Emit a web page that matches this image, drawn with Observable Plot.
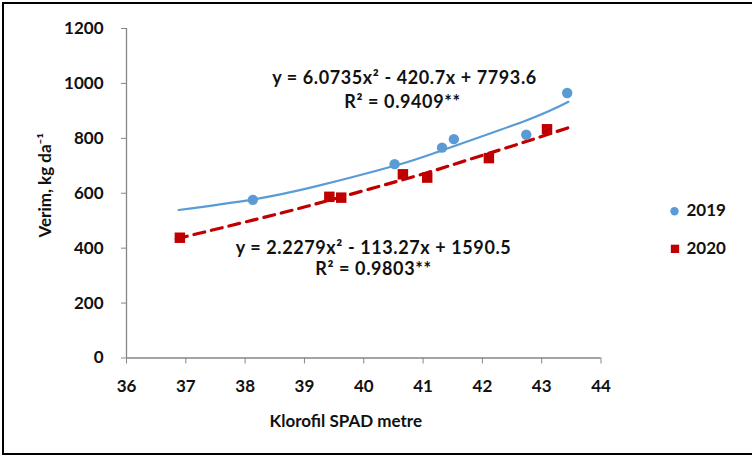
<!DOCTYPE html>
<html>
<head>
<meta charset="utf-8">
<script src="https://cdn.jsdelivr.net/npm/d3@7"></script>
<script src="https://cdn.jsdelivr.net/npm/@observablehq/plot@0.6"></script>
<style>
  body { margin: 0; background: #fff; }
  #wrap { position: relative; width: 752px; height: 457px; overflow: hidden; background: #fff; }
  #frame { position: absolute; left: 2px; top: 2px; width: 800px; height: 453px; border: 2.5px solid #000; box-sizing: border-box; pointer-events: none; }
  #wrap svg { position: absolute; left: 0; top: 0; }
</style>
</head>
<body>
<div id="wrap"><div id="frame"></div></div>
<script>
// ---- data ----
const series = ["2019", "2020"];
const x2019 = [38.13, 40.52, 41.32, 41.52, 42.74, 43.43];
const y2019 = [576, 706, 766, 797, 813, 965];
const x2020 = [36.90, 39.42, 39.62, 40.66, 41.07, 42.11, 43.09];
const y2020 = [438, 587, 584, 669, 657, 728, 833];
// trend lines as they appear in the picture
const trendX2019 = [36.88, 38.12, 39.19, 40.52, 41.33, 42.75, 43.45];
const trendY2019 = [539, 577, 625, 700, 757, 866, 933];
const trendX2020 = [36.84, 38.13, 39.14, 40.11, 41.04, 41.75, 42.56, 43.44];
const trendY2020 = [434, 502, 558, 616, 673, 721, 776, 838];
const xTicks = [36, 37, 38, 39, 40, 41, 42, 43, 44];
const yTicks = [0, 200, 400, 600, 800, 1000, 1200];
const eq2019 = ["y = 6.0735x² - 420.7x + 7793.6", "R² = 0.9409**"];
const eq2020 = ["y = 2.2279x² - 113.27x + 1590.5", "R² = 0.9803**"];
const xLabel = "Klorofil SPAD metre";
const yLabel = "Verim, kg da⁻¹";

const BLUE = "#5B9BD5";
const RED = "#C00000";
const AXIS = "#868686";
const FONT = "Lato, 'Open Sans', sans-serif";
const fs = 17;
const efs = 18;

const idx = a => d3.range(a.length);
const eqText = (s, dx, dy) => Plot.text([s], { frameAnchor: "top-left", dx, dy, textAnchor: "middle", lineAnchor: "middle", fontSize: efs, fontWeight: "bold", fill: "#111" });

const chart = Plot.plot({
  width: 752,
  height: 457,
  marginLeft: 126,
  marginRight: 151.5,
  marginTop: 28,
  marginBottom: 99.5,
  style: { fontFamily: FONT, background: "transparent", overflow: "visible" },
  x: { domain: [xTicks[0], xTicks[xTicks.length - 1]] },
  y: { domain: [yTicks[0], yTicks[yTicks.length - 1]] },
  marks: [
    Plot.ruleY([yTicks[0]], { stroke: AXIS, strokeWidth: 1.3 }),
    Plot.ruleX([xTicks[0]], { stroke: AXIS, strokeWidth: 1.3 }),
    Plot.axisX(xTicks, { tickSize: 6, tickPadding: 16, stroke: AXIS, fill: "#111", fontSize: fs, fontWeight: "bold", tickFormat: "d", label: null }),
    Plot.axisY(yTicks, { tickSize: 5, tickPadding: 18, stroke: AXIS, fill: "#111", fontSize: fs, fontWeight: "bold", tickFormat: "d", label: null }),
    Plot.text([xLabel], { frameAnchor: "bottom", dx: -18, dy: 63.5, lineAnchor: "middle", fontSize: fs, fontWeight: "bold", fill: "#111" }),
    Plot.text([yLabel], { frameAnchor: "left", dx: -81, dy: -8, rotate: -90, lineAnchor: "middle", textAnchor: "middle", fontSize: fs, fontWeight: "bold", fill: "#111" }),
    // trend lines
    Plot.line(idx(trendX2019), { x: trendX2019, y: trendY2019, stroke: BLUE, strokeWidth: 2.2, curve: "natural" }),
    Plot.line(idx(trendX2020), { x: trendX2020, y: trendY2020, stroke: RED, strokeWidth: 3.2, strokeDasharray: "11,7", curve: "natural" }),
    // points
    Plot.dot(idx(x2019), { x: x2019, y: y2019, r: 5.2, fill: BLUE, stroke: null }),
    Plot.dot(idx(x2020), { x: x2020, y: y2020, r: 5.9, symbol: "square", fill: RED, stroke: null }),
    // equations
    eqText(eq2019[0], 278, 49.5),
    eqText(eq2019[1], 276, 73.5),
    eqText(eq2020[0], 247, 220),
    eqText(eq2020[1], 247, 240.5),
    // legend
    Plot.dot([series[0]], { frameAnchor: "right", dx: 73.5, dy: 18, r: 4.2, fill: BLUE, stroke: null }),
    Plot.dot([series[1]], { frameAnchor: "right", dx: 74, dy: 55.6, r: 4.7, symbol: "square", fill: RED, stroke: null }),
    Plot.text([series[0]], { frameAnchor: "right", dx: 85.5, dy: 17.5, textAnchor: "start", lineAnchor: "middle", fontSize: fs, fontWeight: "bold", fill: "#111" }),
    Plot.text([series[1]], { frameAnchor: "right", dx: 85.5, dy: 55.5, textAnchor: "start", lineAnchor: "middle", fontSize: fs, fontWeight: "bold", fill: "#111" })
  ]
});
// slightly wider spacing for the equation labels, as in the reference
chart.querySelectorAll("text").forEach(t => {
  if ([...eq2019, ...eq2020].includes(t.textContent)) t.style.letterSpacing = "0.6px";
});
document.getElementById("wrap").insertBefore(chart, document.getElementById("frame"));
</script>
</body>
</html>
